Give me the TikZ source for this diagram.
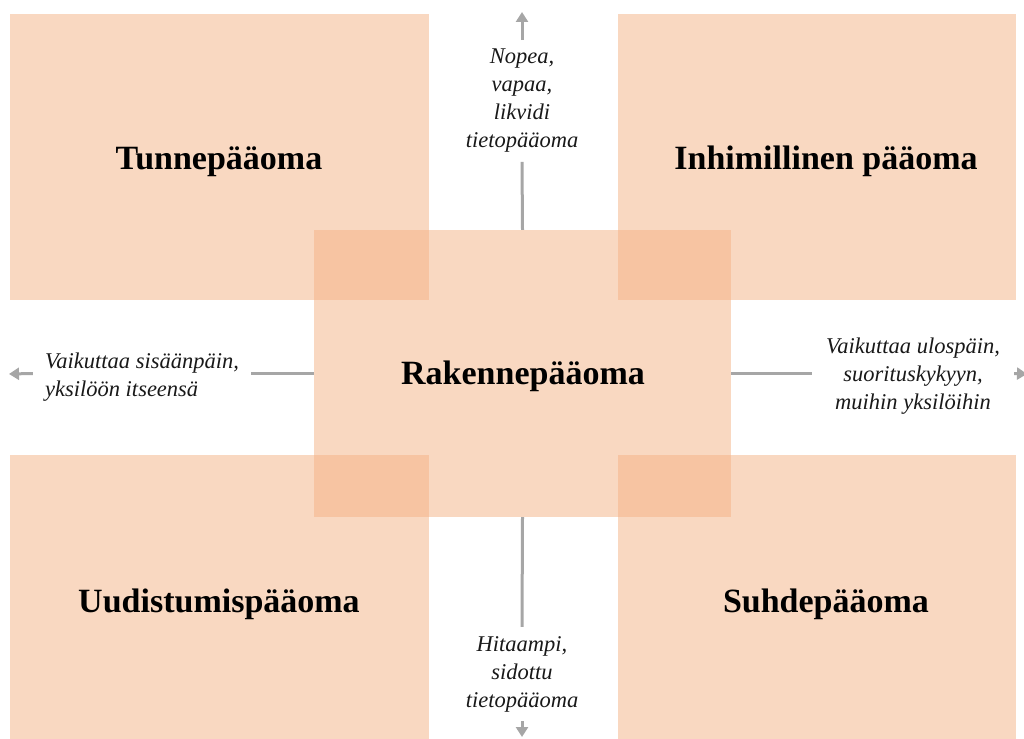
\documentclass[tikz,border=0pt]{standalone}
\usepackage{fontspec}
\setmainfont{Liberation Serif}
\usetikzlibrary{arrows.meta}
\definecolor{boxfill}{HTML}{F4B183}
\definecolor{conngray}{HTML}{A6A6A6}
\tikzset{
  quad/.style={fill=boxfill, fill opacity=0.5, draw=none, inner sep=0pt},
  title/.style={font=\fontsize{34}{40}\selectfont\bfseries, text=black, anchor=base},
  lab/.style={font=\fontsize{22.5}{28}\selectfont\itshape, text=black!90},
  conn/.style={draw=conngray, line width=3pt},
  connarrow/.style={conn, -{Triangle[width=12pt,length=10pt]}},
}
\begin{document}
\begin{tikzpicture}[x=1pt,y=-1pt]
\useasboundingbox (0,0) rectangle (1024,738);
% quadrants
\node[quad, minimum width=419pt, minimum height=286pt] (tl) at (219.5,157) {};
\node[quad, minimum width=398pt, minimum height=286pt] (tr) at (817,157) {};
\node[quad, minimum width=419pt, minimum height=286pt] (bl) at (219.5,598) {};
\node[quad, minimum width=398pt, minimum height=286pt] (br) at (817,598) {};
\node[quad, minimum width=417pt, minimum height=287pt] (c) at (522.5,373.5) {};
% titles
\node[title] (tlt) at (219,170) {Tunnepääoma};
\node[title] (trt) at (826,170) {Inhimillinen pääoma};
\node[title] (ct) at (523,384) {Rakennepääoma};
\node[title] (blt) at (219,612) {Uudistumispääoma};
\node[title] (brt) at (826,612) {Suhdepääoma};
% labels
\node[lab, align=center, inner xsep=4pt, inner ysep=9pt] (lt) at (522,101) {Nopea,\\vapaa,\\likvidi\\tietopääoma};
\node[lab, align=center, inner xsep=4pt, inner ysep=9pt] (lb) at (522,674) {Hitaampi,\\sidottu\\tietopääoma};
\node[lab, align=left, inner xsep=12pt] (ll) at (142,377) {Vaikuttaa sisäänpäin,\\yksilöön itseensä};
\node[lab, align=center, inner xsep=14pt] (lr) at (913,376) {Vaikuttaa ulospäin,\\suorituskykyyn,\\muihin yksilöihin};
% end points
\coordinate (tend) at (522,12);
\coordinate (bend) at (522,737);
\coordinate (lend) at (9,374);
\coordinate (rend) at (1027,374);
% connectors
\draw[conn] (c.north) -- (lt.south);
\draw[connarrow] (lt.north) -- (tend);
\draw[conn] (c.south) -- (lb.north);
\draw[connarrow] (lb.south) -- (bend);
\draw[conn] (c.west) -- (ll.east |- c.west);
\draw[connarrow] (ll.west |- c.west) -- (lend);
\draw[conn] (c.east) -- (lr.west |- c.east);
\draw[connarrow] (lr.east |- c.east) -- (rend);
\end{tikzpicture}
\end{document}
